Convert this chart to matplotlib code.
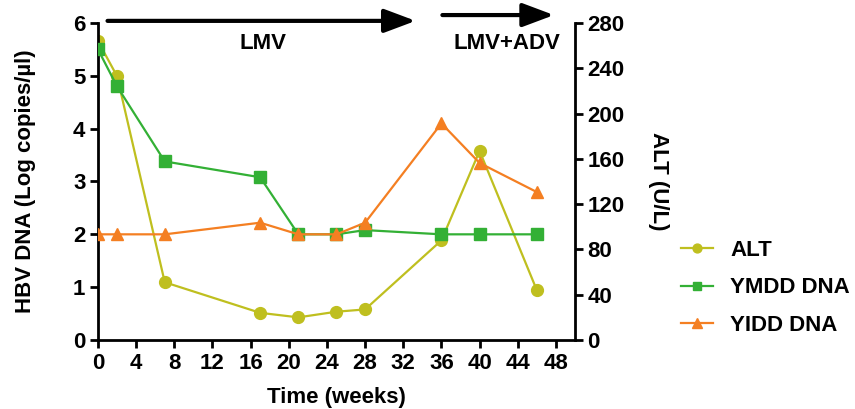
import matplotlib.pyplot as plt

plt.rcParams['font.family'] = ['Liberation Sans', 'DejaVu Sans']
plt.rcParams['font.weight'] = 'bold'
plt.rcParams['font.size'] = 16

# data
weeks = [0, 2, 7, 17, 21, 25, 28, 36, 40, 46]
alt = [264, 233, 51, 24, 20, 25, 27, 88, 167, 44]          # U/L, right axis
ymdd = [5.5, 4.8, 3.38, 3.08, 2.0, 2.0, 2.08, 2.0, 2.0, 2.0]  # log copies/ul
yidd = [2.0, 2.0, 2.0, 2.22, 2.0, 2.0, 2.22, 4.1, 3.35, 2.8]

x_ticks = list(range(0, 49, 4))
left_ticks = [0, 1, 2, 3, 4, 5, 6]
right_ticks = list(range(0, 281, 40))

c_alt = '#bfbf1f'
c_ymdd = '#33b035'
c_yidd = '#f47f22'

fig = plt.figure(figsize=(8.55, 4.09), dpi=100)
ax = fig.add_axes([0.1146, 0.1687, 0.5579, 0.7751])
ax2 = ax.twinx()

l1, = ax2.plot(weeks, alt, color=c_alt, marker='o', ms=8.5, lw=1.6, label='ALT', zorder=2)
l2, = ax.plot(weeks, ymdd, color=c_ymdd, marker='s', ms=8, lw=1.6, label='YMDD DNA', zorder=3)
l3, = ax.plot(weeks, yidd, color=c_yidd, marker='^', ms=9, lw=1.6, label='YIDD DNA', zorder=3)
# put the left axes (DNA lines) above the ALT axes
ax.set_zorder(ax2.get_zorder() + 1)
ax.patch.set_visible(False)

ax.set_xlim(0, 50)
ax.set_ylim(0, 6)
ax2.set_ylim(0, 280)
ax.set_xticks(x_ticks)
ax.set_yticks(left_ticks)
ax2.set_yticks(right_ticks)

for a in (ax, ax2):
    for s in a.spines.values():
        s.set_linewidth(2)
    a.spines['top'].set_visible(False)
    a.tick_params(width=2, length=6, labelsize=16, pad=3)
ax.spines['right'].set_visible(False)
ax2.spines['left'].set_visible(False)
ax2.spines['bottom'].set_visible(False)

ax.set_xlabel('Time (weeks)', fontsize=16, fontweight='bold', labelpad=10)
ax.set_ylabel('HBV DNA (Log copies/µl)', fontsize=16, fontweight='bold', labelpad=27)
ax2.set_ylabel('ALT (U/L)', fontsize=16, fontweight='bold', rotation=270, labelpad=32)

# treatment arrows
ax.annotate('', xy=(33.3, 6.04), xytext=(1.0, 6.04), annotation_clip=False,
            arrowprops=dict(arrowstyle='-|>,head_length=1.2,head_width=0.45', lw=3, color='black',
                            shrinkA=0, shrinkB=0))
ax.annotate('', xy=(47.8, 6.15), xytext=(36.1, 6.15), annotation_clip=False,
            arrowprops=dict(arrowstyle='-|>,head_length=1.2,head_width=0.45', lw=3, color='black',
                            shrinkA=0, shrinkB=0))
ax.text(17.3, 5.62, 'LMV', ha='center', va='center', fontsize=16, fontweight='bold')
ax.text(42.9, 5.62, 'LMV+ADV', ha='center', va='center', fontsize=16, fontweight='bold')

fig.legend([l1, l2, l3], ['ALT', 'YMDD DNA', 'YIDD DNA'], loc='center left',
           bbox_to_anchor=(0.797, 0.296), frameon=False, fontsize=16, handlelength=1.4,
           labelspacing=0.75, handletextpad=0.8, borderaxespad=0, borderpad=0,
           markerscale=0.75)

plt.savefig('out.png', dpi=100)
